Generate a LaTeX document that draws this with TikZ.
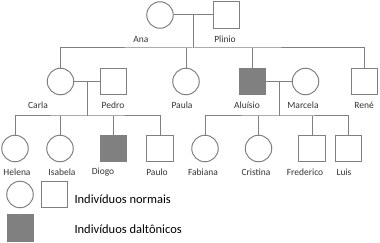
\documentclass[tikz,border=0pt]{standalone}
\usepackage{fontspec}
\setmainfont{Carlito}
\begin{document}
\begin{tikzpicture}[x=1pt,y=-1pt,
  line width=1pt,
  lc/.style={draw=black!50},
  fem/.style={circle,lc,fill=white,minimum size=26.5pt,inner sep=0pt},
  mal/.style={rectangle,lc,fill=white,minimum size=26.5pt,inner sep=0pt},
  aff/.style={mal,fill=black!50},
  lbl/.style={font=\fontsize{9.5}{10}\selectfont,text=black!80,inner sep=0pt},
  leg/.style={font=\fontsize{12.5}{14}\selectfont,text=black,inner sep=0pt,anchor=west},
  conn/.style={draw=black!50,line width=1pt}]
\useasboundingbox (0,0) rectangle (380,243);
% generation 1
\node[fem] (ana) at (160,15) {};
\node[mal] (plinio) at (226.5,15) {};
\node[lbl] (lana) at (141,39) {Ana};
\node[lbl] (lplinio) at (225,39) {Plinio};
% generation 2
\node[fem] (carla) at (60.5,81.5) {};
\node[mal] (pedro) at (113.5,81.5) {};
\node[fem] (paula) at (186,81.5) {};
\node[aff] (aluisio) at (252.5,81.5) {};
\node[fem] (marcela) at (305.5,81.5) {};
\node[mal] (rene) at (364.5,81.5) {};
\node[lbl] (lcarla) at (38,105) {Carla};
\node[lbl] (lpedro) at (113,105) {Pedro};
\node[lbl] (lpaula) at (182,105) {Paula};
\node[lbl] (laluisio) at (247,105) {Aluísio};
\node[lbl] (lmarcela) at (303,105) {Marcela};
\node[lbl] (lrene) at (364,105) {René};
% generation 3
\node[fem] (helena) at (15,148.5) {};
\node[fem] (isabela) at (60,148.5) {};
\node[aff] (diogo) at (113.5,148.5) {};
\node[mal] (paulo) at (160,148.5) {};
\node[fem] (fabiana) at (205,148.5) {};
\node[fem] (cristina) at (258.5,148.5) {};
\node[mal] (frederico) at (312,148.5) {};
\node[mal] (luis) at (348.5,148.5) {};
\node[lbl] (lhelena) at (17,172) {Helena};
\node[lbl] (lisabela) at (62,172) {Isabela};
\node[lbl] (ldiogo) at (103,172) {Diogo};
\node[lbl] (lpaulo) at (157,172) {Paulo};
\node[lbl] (lfabiana) at (203,172) {Fabiana};
\node[lbl] (lcristina) at (256,172) {Cristina};
\node[lbl] (lfrederico) at (305,172) {Frederico};
\node[lbl] (lluis) at (344,172) {Luis};
% connection points
\coordinate (m1) at (193,15);
\coordinate (s1) at (193,48);
\coordinate (m2) at (87,81.5);
\coordinate (s2) at (87,116);
\coordinate (m3) at (279,81.5);
\coordinate (s3) at (279,116);
% connectors gen 1
\draw[conn] (ana) -- (plinio);
\draw[conn] (m1) -- (s1);
\draw[conn] (carla.north) |- (s1) -| (rene.north);
\draw[conn] (paula.north) -- (paula.north |- s1);
\draw[conn] (aluisio.north) -- (aluisio.north |- s1);
% connectors gen 2
\draw[conn] (carla) -- (pedro);
\draw[conn] (m2) -- (s2);
\draw[conn] (helena.north) |- (s2) -| (paulo.north);
\draw[conn] (isabela.north) -- (isabela.north |- s2);
\draw[conn] (diogo.north) -- (diogo.north |- s2);
\draw[conn] (aluisio) -- (marcela);
\draw[conn] (m3) -- (s3);
\draw[conn] (fabiana.north) |- (s3) -| (luis.north);
\draw[conn] (cristina.north) -- (cristina.north |- s3);
\draw[conn] (frederico.north) -- (frederico.north |- s3);
% legend
\node[fem] (lgc) at (20,194.5) {};
\node[mal] (lgs) at (54.5,194.5) {};
\node[aff] (lga) at (20.5,228) {};
\node[leg] (tnorm) at (74,199) {Indivíduos normais};
\node[leg] (tdalt) at (74,229) {Indivíduos daltônicos};
\end{tikzpicture}
\end{document}
